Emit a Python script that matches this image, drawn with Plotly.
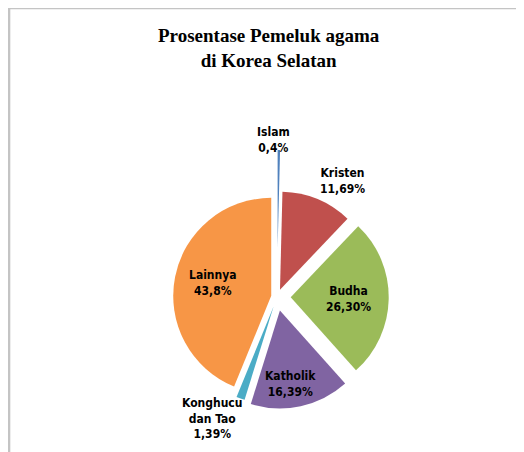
import plotly.graph_objects as go

# ---- Data ----
religions = ["Islam", "Kristen", "Budha", "Katholik", "Konghucu<br>dan Tao", "Lainnya"]
percent = [0.4, 11.69, 26.30, 16.39, 1.39, 43.8]
percent_text = ["0,4%", "11,69%", "26,30%", "16,39%", "1,39%", "43,8%"]

# ---- Styles / layout (kept separate from data) ----
colors = ["#4F81BD", "#C0504D", "#9BBB59", "#8064A2", "#4BACC6", "#F79646"]
pulls = [0.50, 0.08, 0.14, 0.14, 0.10, 0.06]
# label anchor points in paper pixels (from top-left of the figure)
label_pos = [(265, 132), (334, 173), (340, 291), (282, 376), (204, 410), (205, 275)]

W, H = 524, 452
cx, cy, r = 269, 289, 98
R = r * (1 + max(pulls))

LABEL_FONT = dict(family="DejaVu Sans Condensed, Liberation Sans Narrow, DejaVu Sans, sans-serif",
                  size=12, color="black", weight="bold")

fig = go.Figure(go.Pie(
    labels=religions,
    values=percent,
    textinfo="none",
    sort=False,
    direction="clockwise",
    rotation=0,
    pull=pulls,
    marker=dict(colors=colors, line=dict(width=0)),
    showlegend=False,
    domain=dict(x=[(cx - R) / W, (cx + R) / W], y=[1 - (cy + R) / H, 1 - (cy - R) / H]),
    hovertemplate="%{label}: %{value}%<extra></extra>",
))

annotations = []
for name, pt, (px, py) in zip(religions, percent_text, label_pos):
    annotations.append(dict(
        text=f"{name}<br>{pt}", x=px / W, y=1 - py / H, xref="paper", yref="paper",
        xanchor="center", yanchor="middle", showarrow=False, align="center",
        font=LABEL_FONT,
    ))

annotations.append(dict(
    text="Prosentase Pemeluk agama<br>di Korea Selatan",
    x=261 / W, y=1 - 40 / H, xref="paper", yref="paper",
    xanchor="center", yanchor="middle", showarrow=False, align="center",
    font=dict(family="Liberation Serif, Times New Roman, serif", size=19, color="black", weight="bold"),
))

fig.update_layout(
    width=W, height=H,
    margin=dict(l=0, r=0, t=0, b=0, autoexpand=False),
    paper_bgcolor="white",
    plot_bgcolor="white",
    showlegend=False,
    annotations=annotations,
    shapes=[
        dict(type="line", xref="paper", yref="paper", x0=0, x1=1, y0=1, y1=1,
             line=dict(color="#c4c4c4", width=2.5)),
        dict(type="line", xref="paper", yref="paper", x0=0.002, x1=0.002, y0=0, y1=1,
             line=dict(color="#c4c4c4", width=2.5)),
    ],
)

fig.write_html("out.html")
